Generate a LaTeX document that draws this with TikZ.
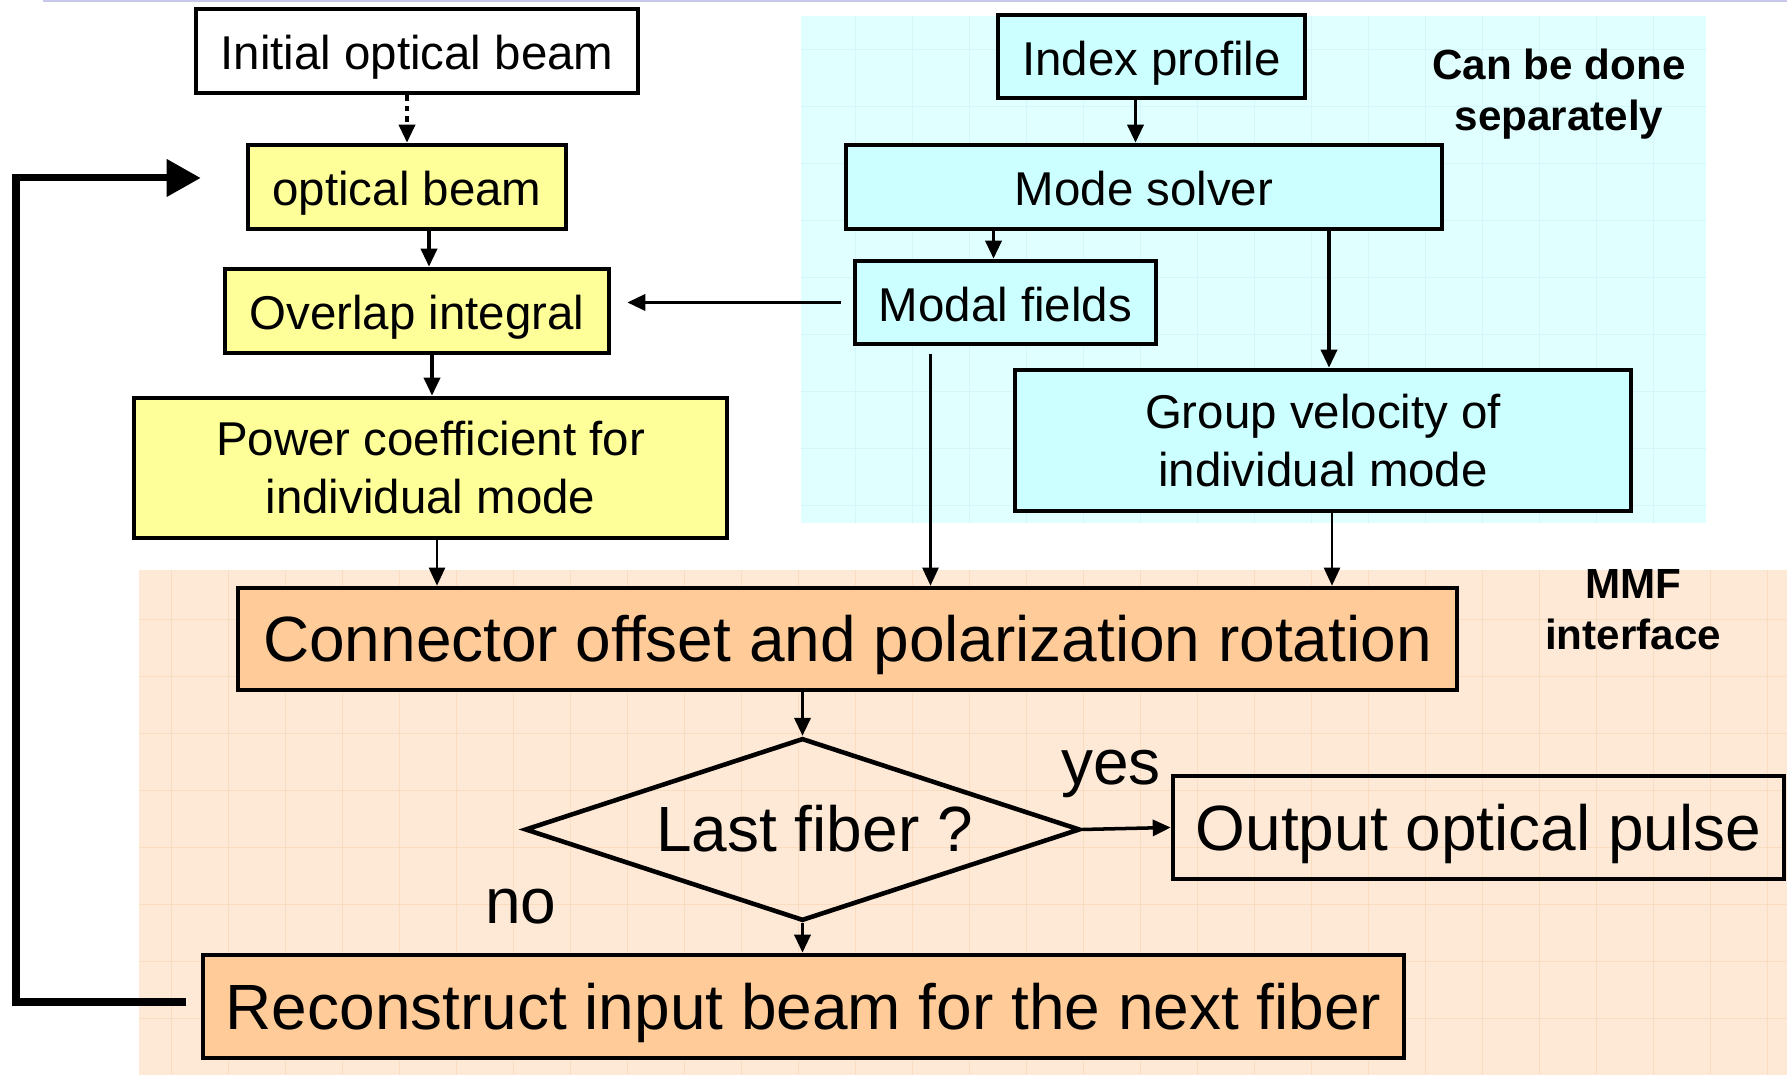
\documentclass[tikz,border=0pt]{standalone}
\usepackage{fontspec}
\setmainfont{Liberation Sans}
\usetikzlibrary{shapes.geometric,arrows.meta}
\definecolor{boxyellow}{RGB}{255,255,153}
\definecolor{boxcyan}{RGB}{204,255,255}
\definecolor{boxorange}{RGB}{255,204,153}
\definecolor{bgcyan}{RGB}{224,255,255}
\definecolor{gridcyan}{RGB}{210,246,250}
\definecolor{bgorange}{RGB}{253,233,214}
\definecolor{gridorange}{RGB}{250,221,192}
\definecolor{topline}{RGB}{200,200,235}

\begin{document}
\begin{tikzpicture}[
    box/.style={draw, line width=1.3pt, align=center, inner sep=0pt,
        font=\fontsize{13.5}{16.5}\selectfont},
    oneline/.style={text height=13.5pt, text depth=2.8pt},
    bigline/.style={text height=16.7pt, text depth=3.8pt, font=\fontsize{18.2}{22}\selectfont},
    bigbox/.style={box, bigline},
    arr/.style={-{Triangle[length=0.18cm,width=0.16cm]}, line width=1pt},
    thinarr/.style={arr, line width=0.7pt},
    note/.style={align=center, font=\fontsize{12}{14.5}\selectfont\bfseries},
    answer/.style={font=\fontsize{18.2}{22}\selectfont}
]
    \useasboundingbox (0,0) rectangle (17.87,10.75);
    \draw[topline, line width=0.6pt] (0.43,10.74) -- (17.87,10.74);

    % shaded areas
    \fill[bgcyan] (8.01,5.52) rectangle (17.06,10.59);
    \draw[gridcyan, very thin, step=0.57] (8.01,5.52) grid (17.06,10.59);
    \fill[bgorange] (1.39,0) rectangle (17.87,5.05);
    \draw[gridorange, very thin, step=0.57] (1.39,0) grid (17.87,5.05);

    % left column
    \node[box, oneline, fill=white, minimum width=4.42cm, minimum height=0.84cm] (init) at (4.17,10.24) {Initial optical beam};
    \node[box, oneline, fill=boxyellow, minimum width=3.18cm, minimum height=0.84cm] (beam) at (4.07,8.88) {optical beam};
    \node[box, oneline, fill=boxyellow, minimum width=3.84cm, minimum height=0.84cm] (overlap) at (4.17,7.64) {Overlap integral};
    \node[box, fill=boxyellow, minimum width=5.93cm, minimum height=1.40cm] (power) at (4.305,6.07) {Power coefficient for\\individual mode};

    % right column
    \node[box, oneline, fill=boxcyan, minimum width=3.07cm, minimum height=0.83cm] (index) at (11.515,10.185) {Index profile};
    \node[box, oneline, fill=boxcyan, minimum width=5.96cm, minimum height=0.84cm] (solver) at (11.44,8.88) {Mode solver};
    \node[box, oneline, fill=boxcyan, minimum width=3.01cm, minimum height=0.83cm] (modal) at (10.055,7.725) {Modal fields};
    \node[box, fill=boxcyan, minimum width=6.16cm, minimum height=1.41cm] (group) at (13.23,6.345) {Group velocity of\\individual mode};
    \node[note] (sep) at (15.59,9.805) {Can be done\\separately};

    % interface
    \node[bigbox, fill=boxorange, minimum width=12.19cm, minimum height=1.02cm] (connector) at (8.475,4.36) {Connector offset and polarization rotation};
    \node[draw, diamond, aspect=3.04, line width=1.3pt, inner sep=0pt, minimum width=5.45cm, minimum height=1.79cm,
        bigline, text height=16.3pt] (last) at (8.025,2.455) {\hspace*{0.24cm}Last fiber ?};
    \node[bigbox, minimum width=6.11cm, minimum height=1.03cm] (output) at (14.785,2.475) {Output optical pulse};
    \node[bigbox, fill=boxorange, minimum width=12.01cm, minimum height=1.03cm] (recon) at (8.035,0.685) {Reconstruct input beam for the next fiber};
    \node[note] (mmf) at (16.33,4.65) {MMF\\interface};
    \node[answer] (yes) at (11.11,3.01) {yes};
    \node[answer] (no) at (5.21,1.685) {no};

    % arrows
    \draw[arr, dash pattern=on 1.5pt off 1.5pt] (init.south -| beam.north) -- (beam.north);
    \draw[arr] ([xshift=0.22cm]beam.south) -- ([xshift=0.22cm]beam.south |- overlap.north);
    \draw[arr] ([xshift=0.15cm]overlap.south) -- ([xshift=0.15cm]overlap.south |- power.north);
    \draw[thinarr] ([xshift=0.065cm]power.south) -- ([xshift=0.065cm]power.south |- connector.north);
    \draw[arr, shorten <=0.12cm, shorten >=0.16cm] (modal.west) -- (modal.west -| overlap.east);
    \draw[arr] ([xshift=-0.16cm]index.south) -- ([xshift=-0.16cm]index.south |- solver.north);
    \draw[arr] ([xshift=-0.12cm]modal.north |- solver.south) -- ([xshift=-0.12cm]modal.north);
    \draw[arr] ([xshift=0.06cm]group.north |- solver.south) -- ([xshift=0.06cm]group.north);
    \draw[thinarr] ([xshift=-0.75cm,yshift=-0.08cm]modal.south) -- ([xshift=-0.75cm]modal.south |- connector.north);
    \draw[thinarr] ([xshift=0.09cm]group.south) -- ([xshift=0.09cm]group.south |- connector.north);
    \draw[arr] (last.north |- connector.south) -- (last.north);
    \draw[arr] (last.south) -- (last.south |- recon.north);
    \draw[arr] (last.east) -- (output.west);

    % loop back to the next fiber
    \coordinate (bend) at (0.16,8.97);
    \draw[line width=2pt, -{Triangle[length=0.34cm,width=0.36cm]}]
        ([xshift=-0.15cm,yshift=0.045cm]recon.west) -| (bend) -- ([xshift=-0.45cm,yshift=0.09cm]beam.west);
\end{tikzpicture}
\end{document}
